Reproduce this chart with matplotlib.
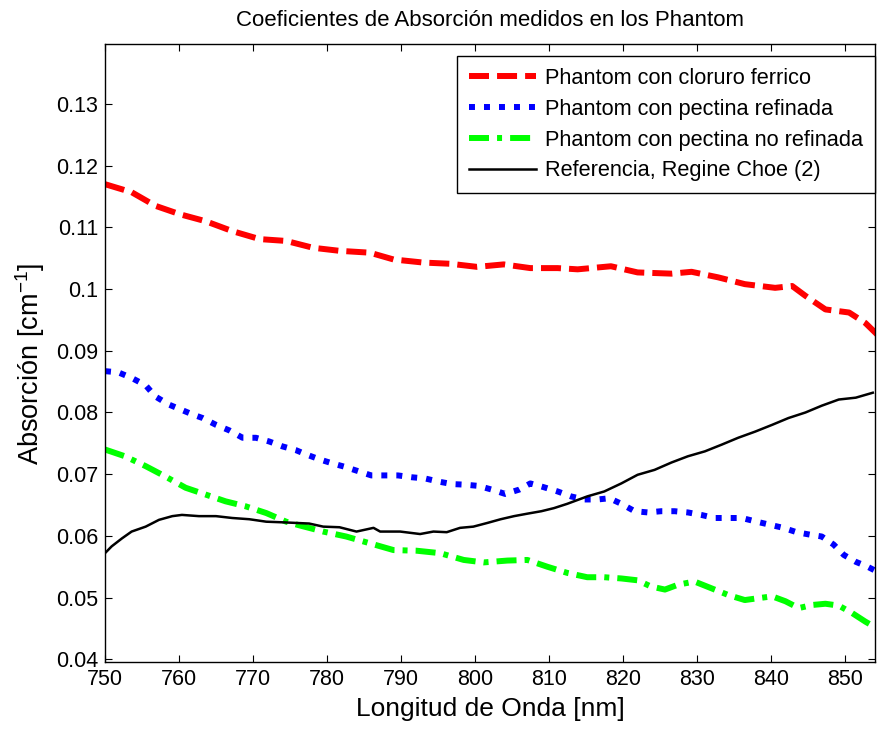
import matplotlib
matplotlib.use('Agg')
import matplotlib.pyplot as plt
import numpy as np
from matplotlib.ticker import FuncFormatter

plt.rcParams['font.family'] = ['Liberation Sans', 'DejaVu Sans']
plt.rcParams['mathtext.fontset'] = 'custom'
plt.rcParams['mathtext.rm'] = 'Liberation Sans'
plt.rcParams['lines.scale_dashes'] = False

# Phantom con cloruro ferrico
x_red = [750, 753.6, 756.8, 760.2, 763.6, 767.2, 770.9, 774.5, 778.1, 781.7, 785.8, 789, 793,
         796.7, 800.3, 803.9, 807.5, 811.2, 813.9, 818.4, 822, 826.6, 829.3, 832.9, 836.5, 840.6,
         842.9, 844.7, 847.4, 850.6, 852.8, 854.6]
y_red = [0.1170, 0.1157, 0.1135, 0.1121, 0.1110, 0.1094, 0.1081, 0.1078, 0.1067, 0.1062, 0.1059,
         0.1048, 0.1043, 0.1041, 0.1036, 0.1040, 0.1034, 0.1034, 0.1032, 0.1037, 0.1027, 0.1025,
         0.1028, 0.1019, 0.1008, 0.1002, 0.1005, 0.0989, 0.0967, 0.0962, 0.0945, 0.0924]

# Phantom con pectina refinada
x_blue = [750, 751.8, 753.6, 755.5, 756.8, 758.6, 760, 761.8, 763.2, 765, 766.8, 768.6, 770.4,
          772.2, 774, 775.8, 777.2, 779, 780.6, 782.4, 784.2, 786, 787.8, 789.6, 791.5, 793.3,
          795.1, 796.9, 798.7, 800.5, 802.3, 804.1, 806, 807.5, 809.3, 811.2, 813, 814.8, 816.6,
          818.2, 819.8, 821.6, 823.4, 825.2, 827, 828.8, 830.6, 832.4, 834.3, 836.1, 838.1, 839.9,
          841.7, 843.5, 845.3, 846.9, 848.5, 849.9, 851.5, 853.1, 854.4]
y_blue = [0.0867, 0.0865, 0.0856, 0.0844, 0.0826, 0.0813, 0.0806, 0.0797, 0.0791, 0.0780, 0.0771,
          0.0759, 0.0759, 0.0753, 0.0745, 0.0739, 0.0732, 0.0724, 0.0718, 0.0712, 0.0705, 0.0698,
          0.0698, 0.0698, 0.0695, 0.0693, 0.0688, 0.0684, 0.0683, 0.0681, 0.0675, 0.0668, 0.0675,
          0.0685, 0.0679, 0.0672, 0.0664, 0.0659, 0.0659, 0.0661, 0.0652, 0.0640, 0.0638, 0.0640,
          0.0640, 0.0638, 0.0634, 0.0629, 0.0629, 0.0629, 0.0623, 0.0618, 0.0613, 0.0606, 0.0602,
          0.0599, 0.0586, 0.0569, 0.0558, 0.0550, 0.0542]

# Phantom con pectina no refinada
x_green = [750, 752.7, 755.5, 758.2, 760.9, 763.6, 766.3, 769, 771.8, 774.5, 776.3, 779.5, 782.6,
           785.8, 789, 792.1, 795.3, 798.5, 801.2, 804.4, 807.1, 809.8, 812.5, 815.2, 817.5, 819.8,
           822, 823.8, 825.7, 827.5, 829.7, 832, 834.3, 836.5, 838.3, 840.2, 842, 843.8, 845.6,
           847.4, 849.2, 851, 852.8, 854.4]
y_green = [0.0740, 0.0729, 0.0713, 0.0696, 0.0678, 0.0667, 0.0656, 0.0648, 0.0637, 0.0623, 0.0617,
           0.0607, 0.0599, 0.0588, 0.0577, 0.0576, 0.0572, 0.0561, 0.0557, 0.0560, 0.0561, 0.0550,
           0.0540, 0.0533, 0.0533, 0.0531, 0.0528, 0.0518, 0.0513, 0.0521, 0.0526, 0.0515, 0.0504,
           0.0496, 0.0499, 0.0502, 0.0494, 0.0483, 0.0488, 0.0490, 0.0487, 0.0475, 0.0461, 0.0450]

# Referencia, Regine Choe (2)
x_ref = [750, 750.9, 752.3, 753.6, 755.5, 757.3, 759.1, 760.4, 762.7, 765, 767.2, 769.5, 771.8,
         774, 777.6, 779.5, 781.7, 784, 786.3, 787.2, 789.9, 792.6, 794.4, 796.2, 798, 799.8,
         801.7, 803.5, 805.3, 807.1, 809, 810.7, 812.5, 815.2, 817.5, 819.8, 822, 824.3, 826.6,
         828.8, 831.1, 833.4, 835.6, 837.9, 840.2, 842.4, 844.7, 846.9, 849.2, 851.5, 853.8]
y_ref = [0.0572, 0.0583, 0.0596, 0.0607, 0.0615, 0.0626, 0.0632, 0.0634, 0.0632, 0.0632, 0.0629,
         0.0627, 0.0623, 0.0622, 0.0620, 0.0615, 0.0614, 0.0607, 0.0613, 0.0607, 0.0607, 0.0603,
         0.0607, 0.0606, 0.0613, 0.0615, 0.0621, 0.0627, 0.0632, 0.0636, 0.0640, 0.0645, 0.0652,
         0.0664, 0.0672, 0.0685, 0.0699, 0.0707, 0.0719, 0.0729, 0.0737, 0.0748, 0.0759, 0.0769,
         0.0780, 0.0791, 0.0800, 0.0811, 0.0821, 0.0824, 0.0832]

labels = ['Phantom con cloruro ferrico', 'Phantom con pectina refinada',
          'Phantom con pectina no refinada', 'Referencia, Regine Choe (2)']
x_ticks = np.arange(750, 851, 10)
y_ticks = np.round(np.arange(0.04, 0.131, 0.01), 2)

fig = plt.figure(figsize=(8.77, 7.36), dpi=100)
ax = fig.add_axes([105 / 877, 74 / 736, 770 / 877, 618 / 736])

ax.plot(x_red, y_red, color='#ff0000', lw=4.3, dashes=(14.4, 5.8), label=labels[0])
ax.plot(x_blue, y_blue, color='#0000ff', lw=4.3, dashes=(4.3, 6.5), label=labels[1])
ax.plot(x_green, y_green, color='#00ff00', lw=4.3, dashes=(14.4, 5.8, 3.6, 5.8), label=labels[2])
ax.plot(x_ref, y_ref, color='black', lw=1.8, label=labels[3])

ax.set_xlim(750, 854.1)
ax.set_ylim(0.03956, 0.13972)
ax.set_xticks(x_ticks)
ax.set_yticks(y_ticks)
ax.yaxis.set_major_formatter(FuncFormatter(lambda v, p: '%g' % round(v, 2)))
ax.tick_params(direction='in', top=True, right=True, length=5, width=0.8,
               labelsize=15.5, pad=5)
for s in ax.spines.values():
    s.set_linewidth(1.0)

ax.set_title('Coeficientes de Absorción medidos en los Phantom', fontsize=16, pad=13)
ax.set_xlabel('Longitud de Onda [nm]', fontsize=19, labelpad=5)
ax.set_ylabel('Absorción [cm$^{-1}$]', fontsize=19.5, labelpad=6, y=0.482)

leg = ax.legend(loc='upper right', bbox_to_anchor=(1.0, 0.9806), borderaxespad=0,
                fontsize=15.7, handlelength=3.1, handletextpad=0.4, labelspacing=0.45,
                borderpad=0.55, fancybox=False, framealpha=1, edgecolor='black')
leg.get_frame().set_linewidth(1.0)

fig.savefig('out.png', dpi=100)
